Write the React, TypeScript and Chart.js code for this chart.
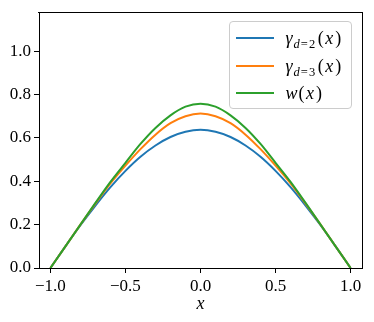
import React, { useEffect, useRef } from 'react';
import { Chart, registerables } from 'chart.js';
Chart.register(...registerables);

const xValues = [-1, -0.9, -0.8, -0.7, -0.6, -0.5, -0.4, -0.3, -0.2, -0.1, 0, 0.1, 0.2, 0.3, 0.4, 0.5, 0.6, 0.7, 0.8, 0.9, 1];
const gammaD2 = [0, 0.1, 0.197, 0.288, 0.373, 0.448, 0.513, 0.565, 0.604, 0.628, 0.637, 0.628, 0.604, 0.565, 0.513, 0.448, 0.373, 0.288, 0.197, 0.1, 0];
const gammaD3 = [0, 0.1, 0.2, 0.297, 0.39, 0.472, 0.548, 0.615, 0.668, 0.7, 0.712, 0.7, 0.668, 0.615, 0.548, 0.472, 0.39, 0.297, 0.2, 0.1, 0];
const wValues = [0, 0.1, 0.2, 0.3, 0.397, 0.485, 0.572, 0.646, 0.704, 0.744, 0.758, 0.744, 0.704, 0.646, 0.572, 0.485, 0.397, 0.3, 0.2, 0.1, 0];
const xTicks = [-1, -0.5, 0, 0.5, 1];
const yTicks = [0, 0.2, 0.4, 0.6, 0.8, 1.0];

const COLORS = ['#1f77b4', '#ff7f0e', '#2ca02c'];
const FONT = '"Liberation Serif", "DejaVu Serif", serif';

const fmt = (v: number) => (v < 0 ? '\u2212' : '') + Math.abs(v).toFixed(1);

const framePlugin = {
  id: 'frameBox',
  afterDraw(chart: any) {
    const ctx = chart.ctx as CanvasRenderingContext2D;
    const a = chart.chartArea;
    const l = Math.round(a.left), r = Math.round(a.right), t = Math.round(a.top), b = Math.round(a.bottom);
    ctx.save();
    ctx.fillStyle = '#000000';
    ctx.fillRect(l - 1, t - 1, r - l + 2, 1);
    ctx.fillRect(r, t - 1, 1, b - t + 2);
    ctx.restore();
  },
};

function LegendLabel({ sub, fn }: { sub?: string; fn: string }) {
  return (
    <span style={{ fontFamily: FONT, fontSize: 18, color: '#000', whiteSpace: 'nowrap' }}>
      <i style={{ marginRight: 1 }}>{fn}</i>
      {sub ? (
        <sub style={{ fontSize: 12.5, verticalAlign: '-4px', letterSpacing: '0.5px', marginRight: 2 }}>
          <i>d</i>
          <span style={{ margin: '0 0.5px' }}>=</span>
          {sub}
        </sub>
      ) : null}
      <span>(</span>
      <i style={{ margin: '0 2px 0 1.5px' }}>x</i>
      <span>)</span>
    </span>
  );
}

export default function App() {
  const ref = useRef<HTMLCanvasElement>(null);
  useEffect(() => {
    document.body.style.margin = '0';
    const mk = (vals: number[]) => xValues.map((x, i) => ({ x, y: vals[i] }));
    const chart = new Chart(ref.current!, {
      type: 'line',
      data: {
        datasets: [
          { label: 'γ_{d=2}(x)', data: mk(gammaD2), borderColor: COLORS[0], order: 2 },
          { label: 'γ_{d=3}(x)', data: mk(gammaD3), borderColor: COLORS[1], order: 1 },
          { label: 'w(x)', data: mk(wValues), borderColor: COLORS[2], order: 0 },
        ].map((d) => ({ ...d, borderWidth: 2, pointRadius: 0, fill: false, cubicInterpolationMode: 'monotone' as const })),
      },
      options: {
        responsive: false,
        animation: false,
        devicePixelRatio: 1,
        layout: { padding: { top: 12, right: 12, left: 0, bottom: 0 } },
        plugins: { legend: { display: false }, tooltip: { enabled: false } },
        scales: {
          x: {
            type: 'linear',
            position: 'bottom',
            min: -1.076,
            max: 1.076,
            afterBuildTicks: (s: any) => { s.ticks = xTicks.map((v) => ({ value: v })); },
            afterFit: (s: any) => { s.height = 54; },
            ticks: { font: { family: FONT, size: 17 }, color: '#000', padding: 3, maxRotation: 0, autoSkip: false, callback: (v: any) => fmt(Number(v)) },
            grid: { drawOnChartArea: false, tickLength: 5, color: '#000' },
            border: { display: true, color: '#000', width: 1 },
            title: { display: true, text: 'x', color: '#000', font: { family: FONT, size: 18, style: 'italic' }, padding: { top: 0, bottom: 7 } },
          },
          y: {
            type: 'linear',
            position: 'left',
            min: 0,
            max: 1.175,
            afterBuildTicks: (s: any) => { s.ticks = yTicks.map((v) => ({ value: v })); },
            afterFit: (s: any) => { s.width = 39; },
            ticks: { font: { family: FONT, size: 17 }, color: '#000', padding: 3, autoSkip: false, callback: (v: any) => fmt(Number(v)) },
            grid: { drawOnChartArea: false, tickLength: 5, color: '#000' },
            border: { display: true, color: '#000', width: 1 },
          },
        },
      },
      plugins: [framePlugin],
    });
    return () => chart.destroy();
  }, []);

  const rows = [
    { color: COLORS[0], el: <LegendLabel fn="γ" sub="2" /> },
    { color: COLORS[1], el: <LegendLabel fn="γ" sub="3" /> },
    { color: COLORS[2], el: <LegendLabel fn="w" /> },
  ];
  const rowY = [16, 43.5, 71];

  return (
    <div style={{ position: 'relative', width: 374, height: 322 }}>
      <canvas ref={ref} width={374} height={322} style={{ width: 374, height: 322, display: 'block' }} />
      <div
        style={{
          position: 'absolute', left: 228.5, top: 21, width: 123, height: 88, boxSizing: 'border-box',
          border: '1px solid #cccccc', borderRadius: 4, background: 'rgba(255,255,255,0.8)',
        }}
      >
        {rows.map((r, i) => (
          <div key={i}>
            <div style={{ position: 'absolute', left: 6, top: rowY[i] - 1, width: 38, height: 2, background: r.color }} />
            <div style={{ position: 'absolute', left: 56, top: rowY[i] - 12, height: 24, lineHeight: '24px' }}>{r.el}</div>
          </div>
        ))}
      </div>
    </div>
  );
}
